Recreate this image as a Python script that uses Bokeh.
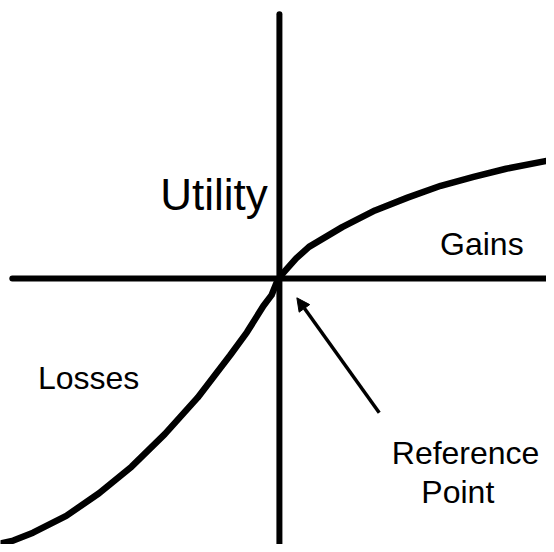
from bokeh.plotting import figure
from bokeh.models import Range1d, Arrow, NormalHead
from bokeh.core.properties import value
from bokeh.embed import file_html
from bokeh.resources import INLINE

# Value function (outcome relative to reference point -> utility)
outcome = [-283, -270, -250, -216.3, -183, -150, -116.3, -83, -50, -33, -16.3, -8, -3, 0,
           3.7, 17, 30, 63.7, 97, 130, 163.7, 197, 230, 271]
utility = [-269, -266, -258, -241, -218, -191, -158, -121, -78, -54.7, -28, -17, -4.7, 0,
           5.3, 20.3, 32, 52, 69, 82, 94, 103, 111.3, 119.3]

# Axes extents
h_axis_x = [-271, 280]
v_axis_y = [268, -280]

# Labels
label_text = ["Utility", "Gains", "Losses", "Reference", "Point"]
label_x = [-121, 163, -245, 114, 144]
label_y = [85, 35, -101, -177, -217]
label_size = ["44px", "32px", "32px", "32px", "32px"]

# Arrow pointing at the reference point
arrow_start = (101.3, -136.3)
arrow_end = (17.7, -19.7)

p = figure(width=546, height=544, x_range=Range1d(-283, 271), y_range=Range1d(-270, 282),
           toolbar_location=None, output_backend="svg", min_border=0,
           x_axis_type=None, y_axis_type=None, outline_line_color=None)
p.grid.visible = False
p.background_fill_color = "white"
p.border_fill_color = "white"

p.line(h_axis_x, [0, 0], line_color="black", line_width=6, line_cap="round")
p.line([0, 0], v_axis_y, line_color="black", line_width=6, line_cap="round")

p.line(outcome, utility, line_color="black", line_width=6.5, line_cap="round", line_join="round")

for t, x, y, s in zip(label_text, label_x, label_y, label_size):
    p.text(x=[x], y=[y], text=[t], text_font=value("Liberation Sans"), text_font_size=s,
           text_color="black", text_baseline="alphabetic", text_align="left")

p.add_layout(Arrow(end=NormalHead(size=13, fill_color="black", line_color="black", line_width=1),
                   x_start=arrow_start[0], y_start=arrow_start[1],
                   x_end=arrow_end[0], y_end=arrow_end[1],
                   line_color="black", line_width=3.5))

open("out.html", "w").write(file_html(p, INLINE))
